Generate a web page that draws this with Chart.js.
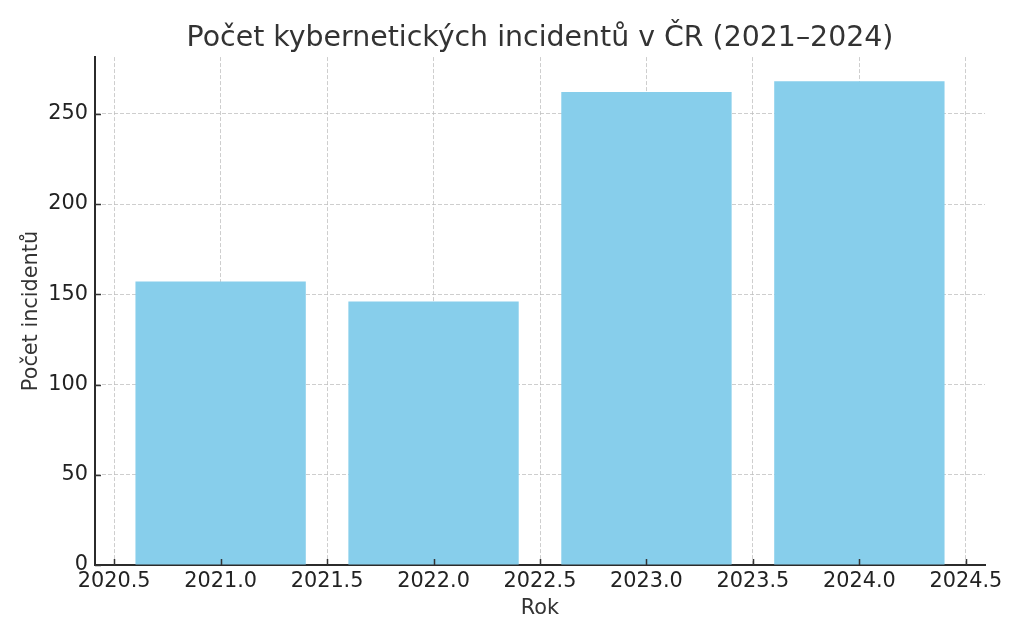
<!DOCTYPE html>
<html>
<head>
<meta charset="utf-8">
<script src="https://cdn.jsdelivr.net/npm/chart.js@4"></script>
<style>
  html, body { margin: 0; padding: 0; background: #fff; }
  #wrap { width: 1024px; height: 640px; }
</style>
</head>
<body>
<div id="wrap"><canvas id="chart"></canvas></div>
<script>
const years = [2021, 2022, 2023, 2024]
const incidents = [157, 146, 262, 268]
const xTicks = [2020.5, 2021.0, 2021.5, 2022.0, 2022.5, 2023.0, 2023.5, 2024.0, 2024.5]
const yTicks = [0, 50, 100, 150, 200, 250]

const font = "'DejaVu Sans', sans-serif"
const textColor = '#333333'
const gridColor = 'rgba(190, 190, 190, 0.75)'

// matplotlib style: small tick marks pointing into the plot
const innerTicks = {
  id: 'innerTicks',
  afterDraw(chart) {
    const ctx = chart.ctx
    const { x, y } = chart.scales
    ctx.save()
    ctx.strokeStyle = '#333'
    ctx.lineWidth = 1.5
    ctx.beginPath()
    x.ticks.forEach(t => {
      const px = Math.round(x.getPixelForValue(t.value)) + 0.5
      ctx.moveTo(px, chart.chartArea.bottom)
      ctx.lineTo(px, chart.chartArea.bottom - 6)
    })
    y.ticks.forEach(t => {
      const py = Math.round(y.getPixelForValue(t.value)) + 0.5
      ctx.moveTo(chart.chartArea.left, py)
      ctx.lineTo(chart.chartArea.left + 6, py)
    })
    ctx.stroke()
    ctx.restore()
  }
}

const ctx = document.getElementById('chart').getContext('2d')
new Chart(ctx, {
  type: 'bar',
  data: {
    datasets: [{
      label: 'Počet incidentů',
      data: years.map((yr, i) => ({ x: yr, y: incidents[i] })),
      backgroundColor: '#87CEEB',
      borderWidth: 0,
      // ruler spacing follows the 0.5-step ticks, so 1.6 gives a 0.8-year bar
      categoryPercentage: 1.0,
      barPercentage: 1.6
    }]
  },
  options: {
    responsive: true,
    maintainAspectRatio: false,
    animation: false,
    layout: { padding: { left: 19, right: 39, top: 0, bottom: 19 } },
    plugins: {
      legend: { display: false },
      tooltip: { enabled: false },
      title: {
        display: true,
        fullSize: false,
        text: 'Počet kybernetických incidentů v ČR (2021–2024)',
        color: textColor,
        font: { family: font, size: 28.4, weight: 'normal' },
        padding: { top: 22, bottom: 1 }
      }
    },
    scales: {
      x: {
        type: 'linear',
        min: 2020.41,
        max: 2024.59,
        offset: false,
        z: 1,
        afterBuildTicks: (scale) => { scale.ticks = xTicks.map(v => ({ value: v })) },
        afterFit: (scale) => { scale.height = 56 },
        ticks: {
          color: '#222',
          font: { family: font, size: 20.8 },
          padding: 4,
          maxRotation: 0,
          autoSkip: false,
          callback: (v) => Number(v).toFixed(1)
        },
        grid: {
          offset: false,
          color: gridColor,
          lineWidth: 1,
          drawTicks: false
        },
        border: { display: true, color: '#2b2b2b', width: 2, dash: [4, 2] },
        title: {
          display: true,
          text: 'Rok',
          color: textColor,
          font: { family: font, size: 20.8 },
          padding: { top: 0, bottom: 0 }
        }
      },
      y: {
        min: 0,
        max: 281.4,
        z: 1,
        afterBuildTicks: (scale) => { scale.ticks = yTicks.map(v => ({ value: v })) },
        afterFit: (scale) => { scale.width = 76 },
        ticks: {
          color: '#222',
          font: { family: font, size: 20.8 },
          padding: 7
        },
        grid: {
          color: gridColor,
          lineWidth: 1,
          drawTicks: false
        },
        border: { display: true, color: '#2b2b2b', width: 2, dash: [4, 2] },
        title: {
          display: true,
          text: 'Počet incidentů',
          color: textColor,
          font: { family: font, size: 20.8 },
          padding: { top: 0, bottom: 0 }
        }
      }
    }
  },
  plugins: [innerTicks]
})
</script>
</body>
</html>
